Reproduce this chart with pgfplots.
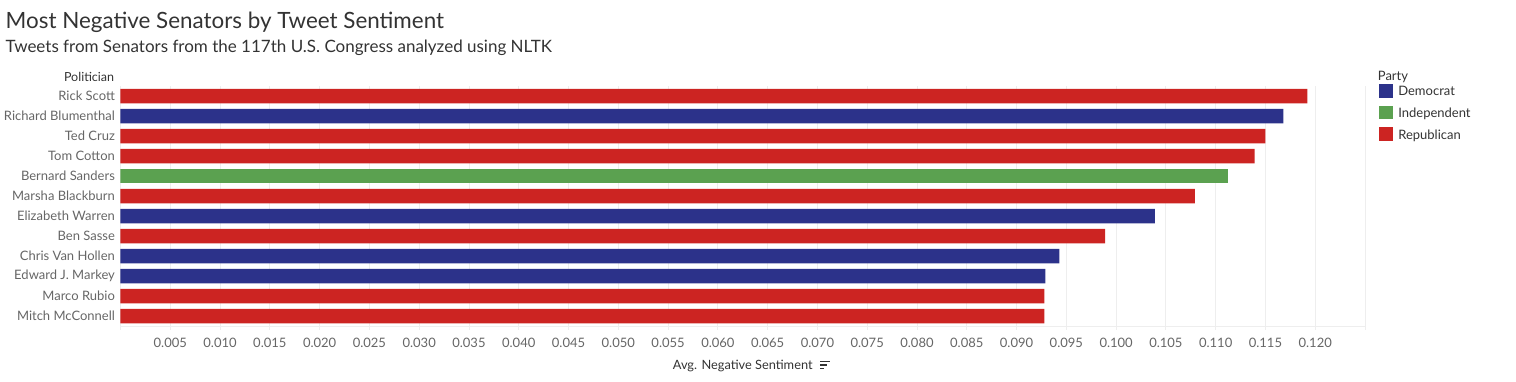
\documentclass[border=0pt]{standalone}
\usepackage{pgfplots}
\pgfplotsset{compat=1.18}
\usepackage{fontspec}
\setmainfont{Lato}
\definecolor{dem}{RGB}{44,50,138}
\definecolor{ind}{RGB}{91,161,80}
\definecolor{rep}{RGB}{204,36,34}
\definecolor{txt}{RGB}{51,51,51}
\definecolor{lbl}{RGB}{102,102,102}
\definecolor{gridc}{RGB}{238,238,238}
\begin{document}
\begin{tikzpicture}[x=1pt,y=1pt]
\useasboundingbox (0,0) rectangle (1516,381);
\coordinate (O) at (120.5,55);
\node[anchor=base west, inner sep=0, text=txt, font=\fontsize{22.4}{26}\selectfont] at (5.5,352.7) {Most Negative Senators by Tweet Sentiment};
\node[anchor=base west, inner sep=0, text=txt, font=\fontsize{17}{20}\selectfont] at (5.5,328.7) {Tweets from Senators from the 117th U.S. Congress analyzed using NLTK};
\node[anchor=base east, inner sep=0, text=txt, font=\fontsize{12.5}{14}\selectfont] at (114.3,299) {Politician};
\node[anchor=base west, inner sep=0, text=txt, font=\fontsize{13}{14}\selectfont] at (1377.7,300.3) {Party};
\begin{axis}[
  at={(O)}, anchor=south west,
  width=1244.5pt, height=240pt, scale only axis,
  xbar, bar width=14.5pt, bar shift=0pt,
  xmin=0, xmax=0.125, ymin=-0.5, ymax=11.5, y dir=reverse,
  axis lines*=left, axis line style={draw=gridc, line width=0.8pt},
  separate axis lines, y axis line style={draw=none},
  xtick={0,0.005,0.010,0.015,0.020,0.025,0.030,0.035,0.040,0.045,0.050,0.055,0.060,0.065,0.070,0.075,0.080,0.085,0.090,0.095,0.100,0.105,0.110,0.115,0.120,0.125},
  xticklabels={,0.005,0.010,0.015,0.020,0.025,0.030,0.035,0.040,0.045,0.050,0.055,0.060,0.065,0.070,0.075,0.080,0.085,0.090,0.095,0.100,0.105,0.110,0.115,0.120,},
  xmajorgrids, grid style={draw=gridc, line width=0.8pt},
  x tick style={draw=gridc, line width=0.8pt}, tick align=outside, major tick length=4pt,
  xticklabel style={text=lbl, font=\fontsize{13}{14}\selectfont, inner sep=0pt, anchor=north, yshift=-8pt},
  ytick={0,...,11},
  yticklabels={Rick Scott,Richard Blumenthal,Ted Cruz,Tom Cotton,Bernard Sanders,Marsha Blackburn,Elizabeth Warren,Ben Sasse,Chris Van Hollen,Edward J. Markey,Marco Rubio,Mitch McConnell},
  y tick style={draw=none},
  yticklabel style={text=lbl, font=\fontsize{13}{14}\selectfont, inner sep=0pt, anchor=east, xshift=-1.4pt},
  xlabel={Avg. Negative Sentiment},
  xlabel style={name=xl, text=txt, font=\fontsize{12.8}{14}\selectfont, inner sep=0pt, anchor=base, at={(axis description cs:0.5,0)}, yshift=-43.3pt},
  legend style={at={(1.01125,1.0083)}, anchor=north west, draw=none, fill=none, inner sep=0pt,
    font=\fontsize{13}{14}\selectfont, text=txt, row sep=7pt,
    nodes={inner sep=0pt, text height=10pt, text depth=3pt, anchor=base west},
    /tikz/every odd column/.append style={column sep=5.5pt}},
  legend cell align=left,
  legend image code/.code={\fill[#1] (0pt,-2pt) rectangle (13.6pt,11.6pt);},
]
\addplot[fill=dem, draw=none] coordinates {(0.1168,1) (0.1039,6) (0.0943,8) (0.0929,9)};
\addplot[fill=ind, draw=none] coordinates {(0.1112,4)};
\addplot[fill=rep, draw=none] coordinates {(0.1192,0) (0.1150,2) (0.1139,3) (0.1079,5) (0.0989,7) (0.0928,10) (0.0928,11)};
\legend{Democrat,Independent,Republican}
\end{axis}
\draw[txt, line width=1.4pt] (820,19.7) -- (830,19.7);
\draw[txt, line width=1.4pt] (820,16) -- (827,16);
\draw[txt, line width=1.4pt] (820,12.3) -- (824,12.3);
\end{tikzpicture}
\end{document}
